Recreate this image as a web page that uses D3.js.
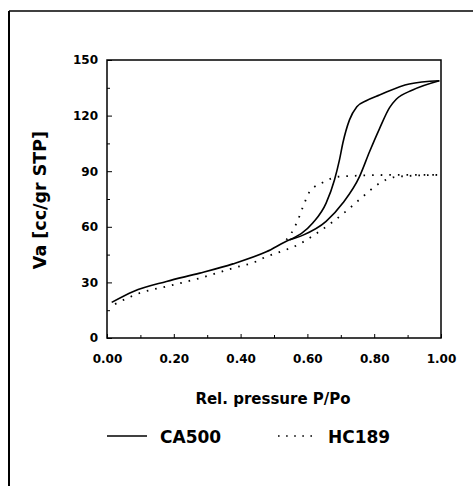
<!DOCTYPE html>
<html><head><meta charset="utf-8">
<script src="https://cdn.jsdelivr.net/npm/d3@7"></script>
<style>body{margin:0;background:#fff;} svg{display:block;font-family:"DejaVu Sans","Liberation Sans",Arial,sans-serif;font-weight:bold;}</style>
</head><body>
<svg id="c" width="473" height="486"></svg>
<script>
const xTicks = [0, 0.2, 0.4, 0.6, 0.8, 1.0];
const yTicks = [0, 30, 60, 90, 120, 150];
const xLabel = "Rel. pressure P/Po";
const yLabel = "Va [cc/gr STP]";
const seriesNames = ["CA500", "HC189"];

const ca500Ads = [[0.014,19.2],[0.079,25.1],[0.178,30.5],[0.278,35.0],[0.377,40.0],[0.477,46.5],[0.547,53],[0.587,55.5],[0.656,62.9],[0.706,72.8],[0.756,87.1],[0.786,100.5],[0.816,113],[0.846,124.3],[0.866,128.8],[0.915,133.8],[0.995,138.8]];
const ca500Des = [[0.547,53],[0.616,62],[0.656,72.8],[0.681,85.3],[0.696,96.1],[0.706,105.1],[0.726,117.7],[0.748,124.8],[0.776,128],[0.816,131.1],[0.905,137.1],[0.995,138.8]];
const hc189Ads = [[0.024,18.3],[0.099,24.3],[0.178,27.8],[0.278,32.3],[0.377,37.7],[0.447,41.3],[0.472,43.5],[0.522,46.7],[0.572,50.3],[0.621,55.7],[0.671,62],[0.721,69.2],[0.766,76.3],[0.816,83.5],[0.866,87],[0.995,88]];
const hc189Des = [[0.537,53],[0.552,56.6],[0.572,63.8],[0.587,70.9],[0.607,79],[0.646,83.9],[0.696,87.1],[0.866,88],[0.995,88]];

const svg = d3.select("#c");
const x = d3.scaleLinear().domain([0,1]).range([107,441]);
const y = d3.scaleLinear().domain([0,150]).range([338,60]);

// outer frame (top and left)
svg.append("line").attr("x1",9).attr("x2",473).attr("y1",11).attr("y2",11).attr("stroke","#000").attr("stroke-width",1.5);
svg.append("line").attr("x1",9).attr("x2",9).attr("y1",11).attr("y2",486).attr("stroke","#000").attr("stroke-width",2);

// plot box
svg.append("rect").attr("x",x(0)).attr("y",y(150)).attr("width",x(1)-x(0)).attr("height",y(0)-y(150))
  .attr("fill","none").attr("stroke","#000").attr("stroke-width",1.5);

// axes
const xMinor = d3.range(0.1,1,0.2);
const yMinor = d3.range(15,150,30);
const xAxis = d3.axisBottom(x).tickValues(xTicks).tickFormat(d3.format(".2f")).tickSizeInner(-4).tickSizeOuter(0).tickPadding(16);
const gx = svg.append("g").attr("transform",`translate(0,${y(0)})`).call(xAxis);
gx.select(".domain").remove();
gx.selectAll("text").attr("font-size",12).attr("font-weight","bold").attr("font-family","DejaVu Sans").attr("fill","#000");
svg.append("g").attr("transform",`translate(0,${y(0)})`).call(d3.axisBottom(x).tickValues(xMinor).tickSizeInner(-3).tickSizeOuter(0).tickFormat(""))
  .select(".domain").remove();

const yAxis = d3.axisLeft(y).tickValues(yTicks).tickSizeInner(-5).tickSizeOuter(0).tickPadding(9);
const gy = svg.append("g").attr("transform",`translate(${x(0)},0)`).call(yAxis);
gy.select(".domain").remove();
gy.selectAll("text").attr("font-size",12).attr("font-weight","bold").attr("font-family","DejaVu Sans").attr("fill","#000");
svg.append("g").attr("transform",`translate(0,0)`).attr("transform",`translate(${x(0)},0)`).call(d3.axisLeft(y).tickValues(yMinor).tickSizeInner(-3).tickSizeOuter(0).tickFormat(""))
  .select(".domain").remove();

// titles
svg.append("text").attr("x",273).attr("y",404).attr("text-anchor","middle").attr("font-size",15).text(xLabel);
svg.append("text").attr("transform",`translate(46,200) rotate(-90)`).attr("text-anchor","middle").attr("font-size",17.5).text(yLabel);

// curves
const line = d3.line().x(d=>x(d[0])).y(d=>y(d[1])).curve(d3.curveMonotoneX);
[ca500Ads, ca500Des].forEach(s=>svg.append("path").attr("d",line(s)).attr("fill","none").attr("stroke","#000").attr("stroke-width",1.6));
[hc189Ads, hc189Des].forEach(s=>svg.append("path").attr("d",line(s)).attr("fill","none").attr("stroke","#000").attr("stroke-width",1.8).attr("stroke-dasharray","1.6,7"));

// legend
svg.append("line").attr("x1",107).attr("x2",147).attr("y1",436).attr("y2",436).attr("stroke","#000").attr("stroke-width",1.5);
svg.append("text").attr("x",160).attr("y",443).attr("font-size",17).text(seriesNames[0]);
svg.append("line").attr("x1",278).attr("x2",314).attr("y1",436).attr("y2",436).attr("stroke","#000").attr("stroke-width",1.6).attr("stroke-dasharray","1.6,6.5");
svg.append("text").attr("x",328).attr("y",443).attr("font-size",17).text(seriesNames[1]);
</script>
</body></html>
